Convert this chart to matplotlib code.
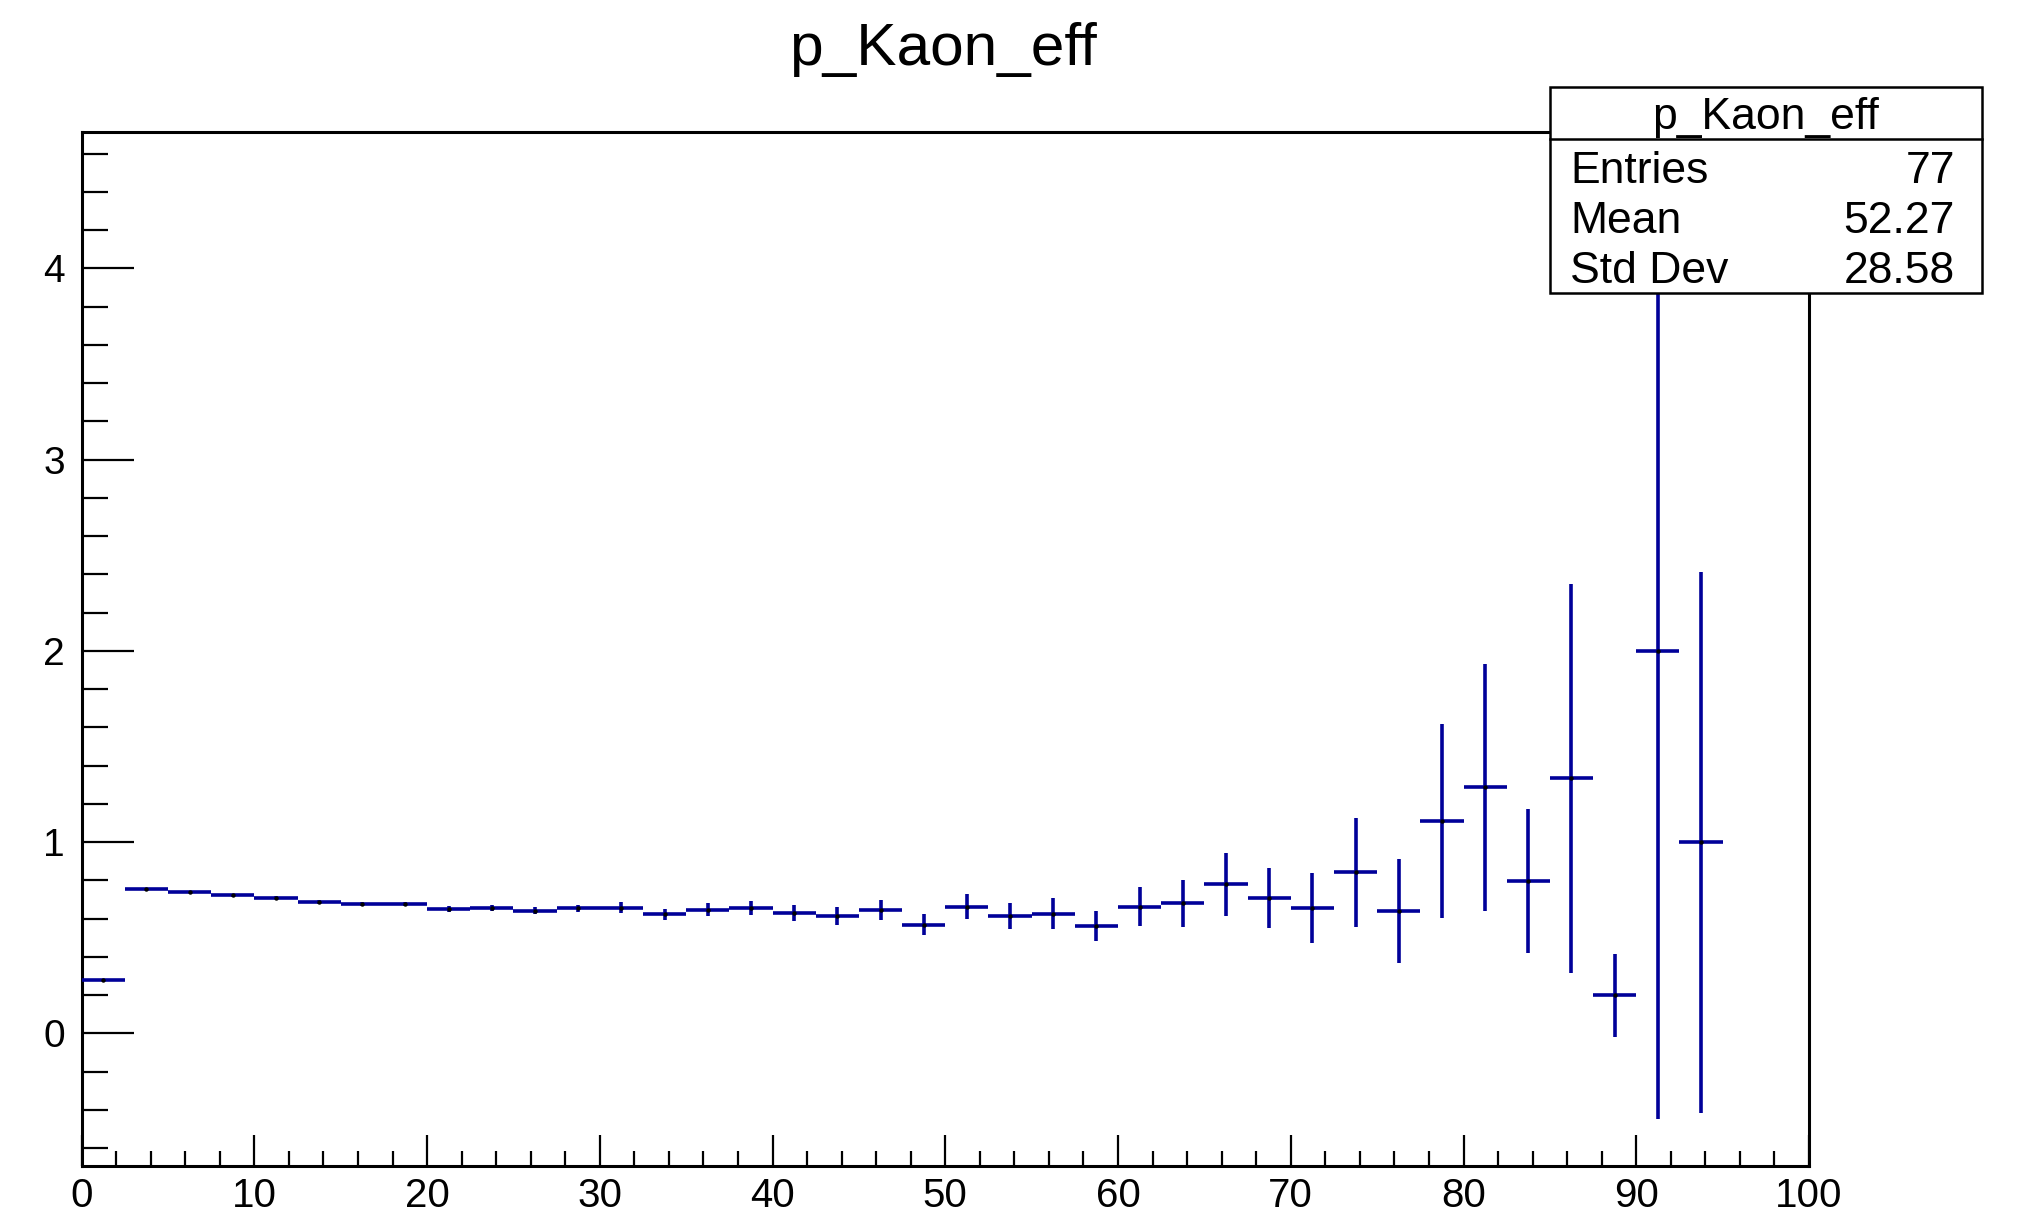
import numpy as np
import matplotlib
matplotlib.use("Agg")
import matplotlib.pyplot as plt
from matplotlib.patches import Rectangle
from matplotlib.lines import Line2D
from matplotlib.ticker import MultipleLocator

plt.rcParams['font.family'] = ['Liberation Sans', 'DejaVu Sans']

# Histogram p_Kaon_eff: 40 bins on [0, 100]
bin_lo = 0.0
bin_hi = 100.0
n_bins = 40
values = [0.281, 0.755, 0.740, 0.722, 0.710, 0.686, 0.677, 0.677, 0.651, 0.654,
          0.642, 0.654, 0.658, 0.623, 0.646, 0.658, 0.628, 0.614, 0.647, 0.569,
          0.663, 0.614, 0.626, 0.562, 0.663, 0.680, 0.780, 0.708, 0.656, 0.843,
          0.641, 1.111, 1.287, 0.799, 1.333, 0.200, 2.000, 1.000]
errors = [0.004, 0.006, 0.007, 0.008, 0.009, 0.010, 0.011, 0.012, 0.014, 0.015,
          0.017, 0.019, 0.027, 0.029, 0.034, 0.037, 0.042, 0.046, 0.053, 0.054,
          0.064, 0.068, 0.081, 0.077, 0.103, 0.123, 0.166, 0.158, 0.183, 0.284,
          0.273, 0.509, 0.646, 0.377, 1.015, 0.217, 2.449, 1.414]

title = "p_Kaon_eff"
stats_labels = ["Entries", "Mean", "Std Dev"]
stats_values = ["77", "52.27", "28.58"]

W, H = 2023, 1224
fig = plt.figure(figsize=(W / 100, H / 100), dpi=100)

def fx(px):
    return px / W

def fy(py):
    return 1 - py / H

left, right, top, bottom = 81.6, 1809, 132, 1166
ax = fig.add_axes([fx(left), fy(bottom), fx(right) - fx(left), fy(top) - fy(bottom)])

width = (bin_hi - bin_lo) / n_bins
centers = bin_lo + width * (np.arange(len(values)) + 0.5)
color = '#000099'
ax.errorbar(centers, values, xerr=width / 2, yerr=errors, fmt='none',
            ecolor=color, elinewidth=2.6, capsize=0, zorder=3)
ax.plot(centers, values, 'o', color='black', markersize=2.2, zorder=4)

ax.set_xlim(bin_lo, bin_hi)
ax.set_ylim(-0.693, 4.713)

ax.xaxis.set_major_locator(MultipleLocator(10))
ax.xaxis.set_minor_locator(MultipleLocator(2))
ax.yaxis.set_major_locator(MultipleLocator(1))
ax.yaxis.set_minor_locator(MultipleLocator(0.2))

ax.tick_params(axis='y', which='major', direction='in', length=37.4, width=1.6,
               labelsize=28, pad=12)
ax.tick_params(axis='y', which='minor', direction='in', length=18.7, width=1.6)
ax.tick_params(axis='x', which='major', direction='in', length=22.3, width=1.6,
               labelsize=29, pad=8)
ax.tick_params(axis='x', which='minor', direction='in', length=11, width=1.6)
for s in ax.spines.values():
    s.set_linewidth(2.2)

# Title
fig.text(fx(943), fy(65), title, ha='center', va='baseline', fontsize=43.5)

# Statistics box
bx0, bx1, by0, by1 = 1550, 1982, 87, 293
fig.patches.append(Rectangle((fx(bx0), fy(by1)), fx(bx1) - fx(bx0), fy(by0) - fy(by1),
                             transform=fig.transFigure, facecolor='white',
                             edgecolor='black', linewidth=1.8, zorder=5))
fig.lines.append(Line2D([fx(bx0), fx(bx1)], [fy(139), fy(139)],
                        transform=fig.transFigure, color='black', linewidth=1.8, zorder=6))
fig.text(fx((bx0 + bx1) / 2), fy(129), title, ha='center', va='baseline',
         fontsize=32, zorder=7)
baselines = [183, 233, 283]
for lab, val, yb in zip(stats_labels, stats_values, baselines):
    fig.text(fx(1570), fy(yb), lab, ha='left', va='baseline', fontsize=32, zorder=7)
    fig.text(fx(1955), fy(yb), val, ha='right', va='baseline', fontsize=32, zorder=7)

fig.savefig("out.png", dpi=100, facecolor='white')
